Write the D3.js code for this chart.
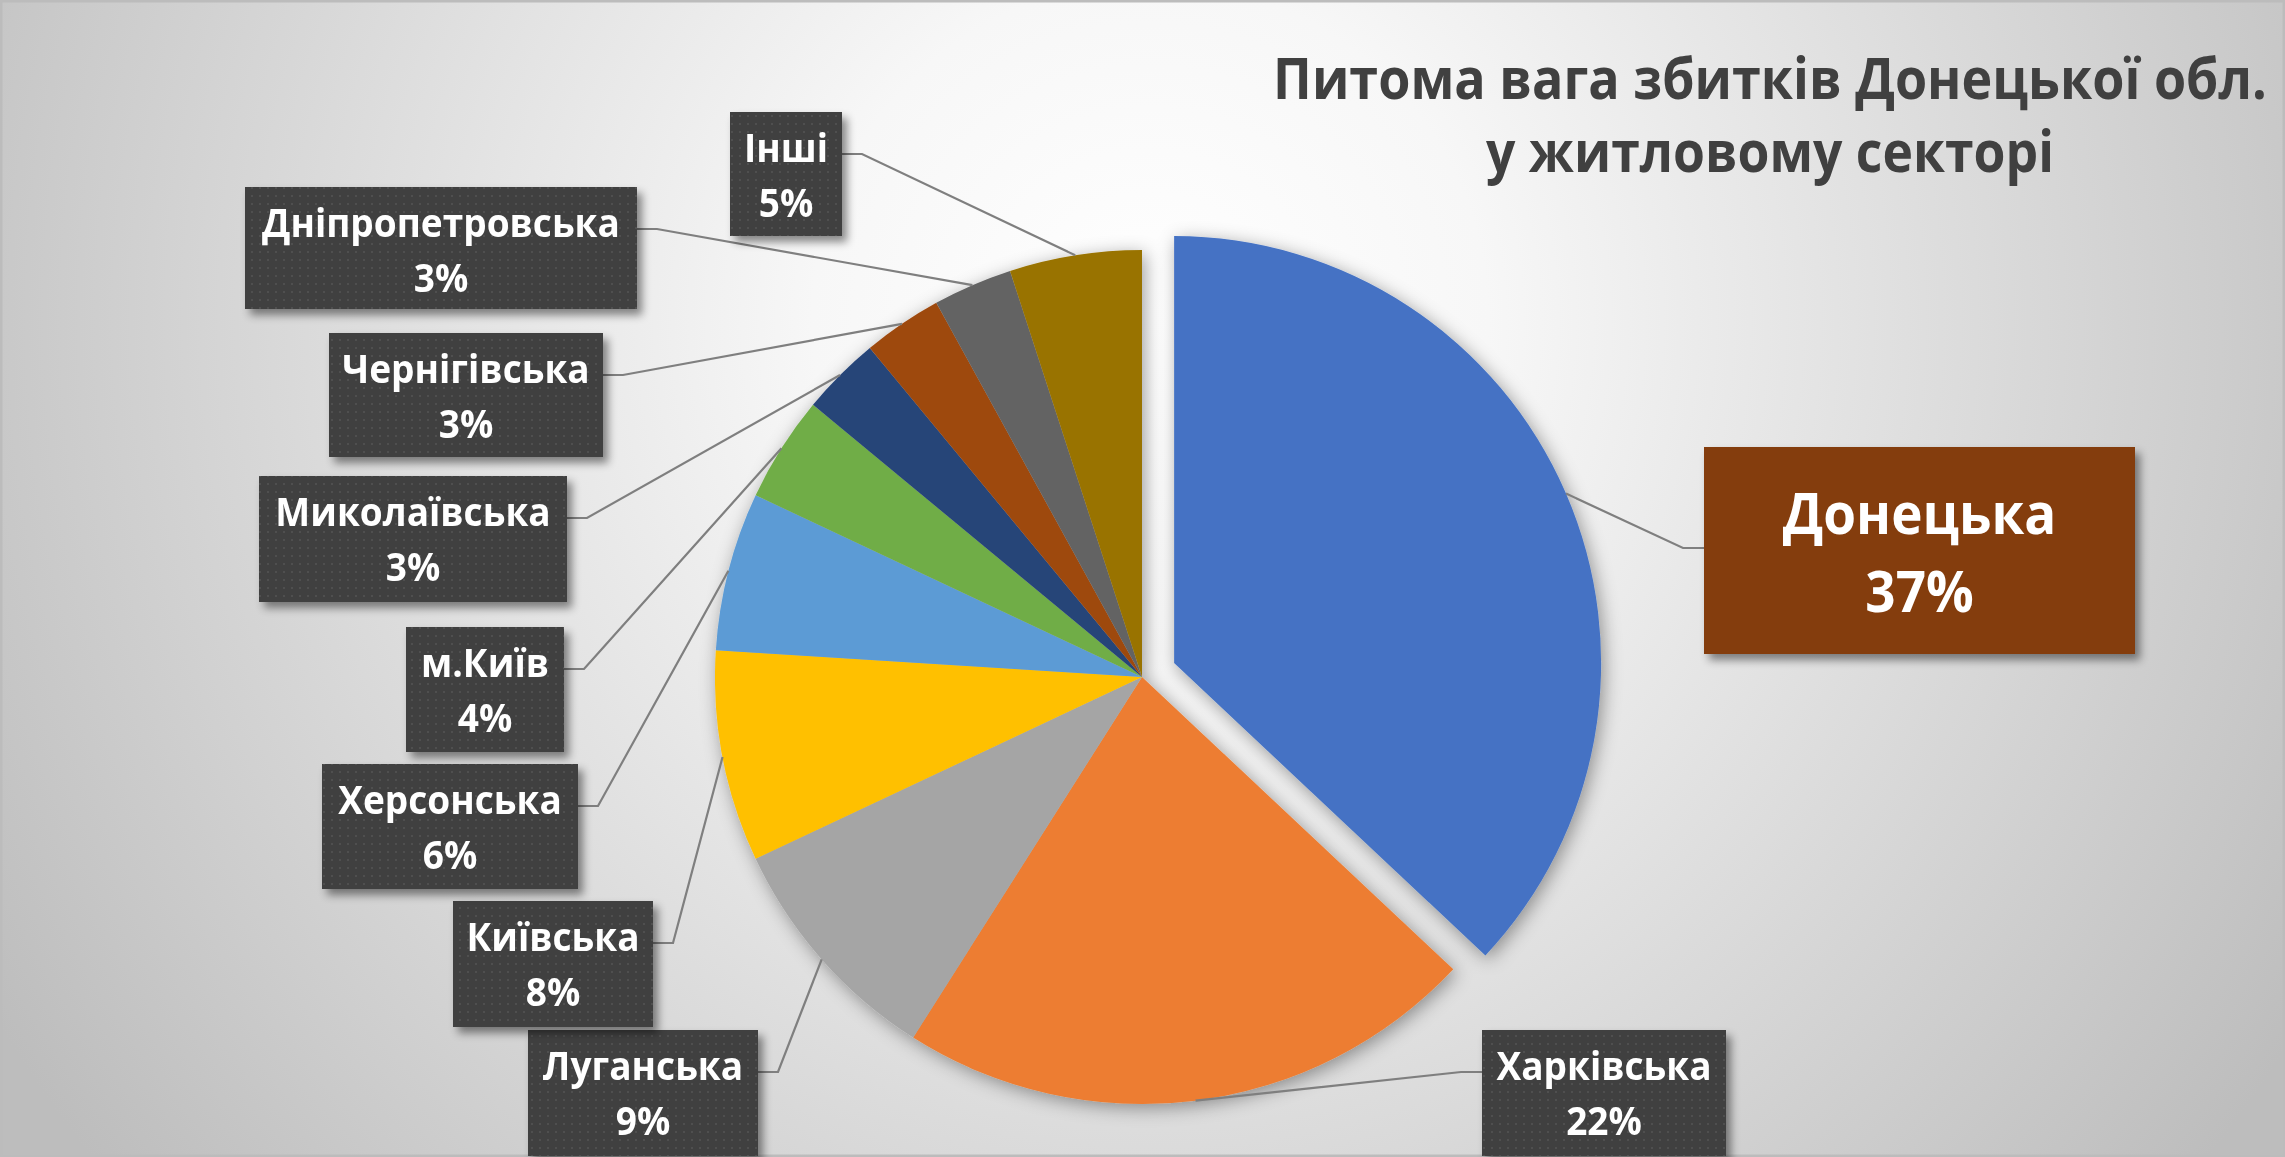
<!DOCTYPE html>
<html><head><meta charset="utf-8">
<script src="https://cdn.jsdelivr.net/npm/d3@7"></script>
<style>html,body{margin:0;padding:0;overflow:hidden;background:#fff}</style>
</head><body>
<svg id="chart" width="2285" height="1157"></svg>
<script>
// ---- data ----
const categories = ["Донецька","Харківська","Луганська","Київська","Херсонська","м.Київ","Миколаївська","Чернігівська","Дніпропетровська","Інші"];
const values = [37,22,9,8,6,4,3,3,3,5];
const colors = ["#4472C4","#ED7D31","#A5A5A5","#FFC000","#5B9BD5","#70AD47","#264478","#9E480E","#636363","#997300"];
const titleLines = ["Питома вага збитків Донецької обл.","у житловому секторі"];

// ---- layout (label boxes, full-size pixels) ----
const labelLayout = [
  {x:1704,y:447,w:431,h:207,fs:57,sx:0.93,b1:87,b2:165,attach:101,side:"left",fill:"#843C0C"},
  {x:1482,y:1030,w:244,h:126,side:"left"},
  {x:528,y:1030,w:230,h:126,side:"right"},
  {x:453,y:901,w:200,h:126,side:"right"},
  {x:322,y:764,w:256,h:125,side:"right"},
  {x:406,y:627,w:158,h:125,side:"right"},
  {x:259,y:476,w:308,h:126,side:"right"},
  {x:329,y:333,w:274,h:124,side:"right"},
  {x:245,y:187,w:392,h:122,side:"right"},
  {x:730,y:112,w:112,h:124,side:"right"}
];
const titleWidths = [994, 568];

const W = 2285, H = 1157;
const cx = 1142, cy = 677, R = 427, explode = 35;

const svg = d3.select("#chart");
const defs = svg.append("defs");

// background gradient
const bg = defs.append("radialGradient").attr("id","bg")
  .attr("gradientUnits","userSpaceOnUse").attr("cx",1150).attr("cy",320).attr("r",1350);
bg.append("stop").attr("offset",0).attr("stop-color","#ffffff");
bg.append("stop").attr("offset",0.25).attr("stop-color","#f7f7f7");
bg.append("stop").attr("offset",1).attr("stop-color","#bdbdbd");

// dotted pattern for label boxes
const pat = defs.append("pattern").attr("id","dots").attr("patternUnits","userSpaceOnUse")
  .attr("width",8).attr("height",8);
pat.append("rect").attr("width",8).attr("height",8).attr("fill","#404040");
pat.append("rect").attr("x",3).attr("y",3).attr("width",2).attr("height",2).attr("fill","#505050");

// shadows
const f1 = defs.append("filter").attr("id","pieShadow").attr("x","-20%").attr("y","-20%").attr("width","140%").attr("height","140%");
f1.append("feDropShadow").attr("dx",3).attr("dy",4).attr("stdDeviation",9)
  .attr("flood-color","#000").attr("flood-opacity",0.38);
const f2 = defs.append("filter").attr("id","boxShadow").attr("x","-20%").attr("y","-20%").attr("width","140%").attr("height","150%");
f2.append("feDropShadow").attr("dx",5).attr("dy",6).attr("stdDeviation",4)
  .attr("flood-color","#000").attr("flood-opacity",0.45);

svg.append("rect").attr("width",W).attr("height",H).attr("fill","url(#bg)");
svg.append("rect").attr("x",1).attr("y",1).attr("width",W-2).attr("height",H-2)
  .attr("fill","none").attr("stroke","#bcbcbc").attr("stroke-width",3);

// title (condensed horizontally to the reference width)
svg.append("g").selectAll("text").data(titleLines).join("text")
  .attr("x",0).attr("y",0)
  .attr("text-anchor","middle")
  .attr("font-family","'Open Sans', sans-serif").attr("font-weight",700)
  .attr("font-size",58).attr("fill","#404040")
  .text(d=>d)
  .attr("transform",function(d,i){
    const nat = this.getComputedTextLength();
    const s = titleWidths[i]/nat;
    return `translate(1770,${99+i*73}) scale(${s},1)`;
  });

// pie
const pie = d3.pie().sort(null).value(d=>d);
const arcs = pie(values);
const arc = d3.arc().innerRadius(0).outerRadius(R);
const total = d3.sum(values);
const fmt = d3.format(".0%");

function offsetOf(i, a){
  if(i!==0) return [0,0];
  const m = (a.startAngle+a.endAngle)/2;
  return [explode*Math.sin(m), -explode*Math.cos(m)];
}

const gPie = svg.append("g").attr("filter","url(#pieShadow)");
gPie.selectAll("path").data(arcs).join("path")
  .attr("transform",(d,i)=>{const o=offsetOf(i,d);return `translate(${cx+o[0]},${cy+o[1]})`;})
  .attr("d",arc).attr("fill",(d,i)=>colors[i]);

// leader lines
const gLines = svg.append("g");
arcs.forEach((a,i)=>{
  const L = labelLayout[i];
  const o = offsetOf(i,a);
  const m = (a.startAngle+a.endAngle)/2;
  const ex = cx+o[0]+R*Math.sin(m), ey = cy+o[1]-R*Math.cos(m);
  const ay = L.y + (L.attach!==undefined?L.attach:42);
  const bx = L.side==="right" ? L.x+L.w : L.x;
  const elx = L.side==="right" ? bx+20 : bx-21;
  gLines.append("path")
    .attr("d",d3.line()([[bx,ay],[elx,ay],[ex,ey]]))
    .attr("fill","none").attr("stroke","#7f7f7f").attr("stroke-width",2.2);
});

// label boxes
const gLab = svg.append("g");
arcs.forEach((a,i)=>{
  const L = labelLayout[i];
  const g = gLab.append("g");
  g.append("rect").attr("x",L.x).attr("y",L.y).attr("width",L.w).attr("height",L.h)
    .attr("fill",L.fill||"url(#dots)").attr("filter","url(#boxShadow)");
  const fs = L.fs||39, b1 = L.b1||50, b2 = L.b2||105, sx = L.sx||0.95;
  const t = [categories[i], fmt(values[i]/total)];
  g.selectAll("text").data(t).join("text")
    .attr("x",0).attr("y",0)
    .attr("transform",(d,k)=>`translate(${L.x+L.w/2},${L.y+(k===0?b1:b2)}) scale(${sx},1)`)
    .attr("text-anchor","middle")
    .attr("font-family","'Open Sans', sans-serif").attr("font-weight",700)
    .attr("font-size",fs).attr("fill","#ffffff")
    .text(d=>d);
});
</script>
</body></html>
